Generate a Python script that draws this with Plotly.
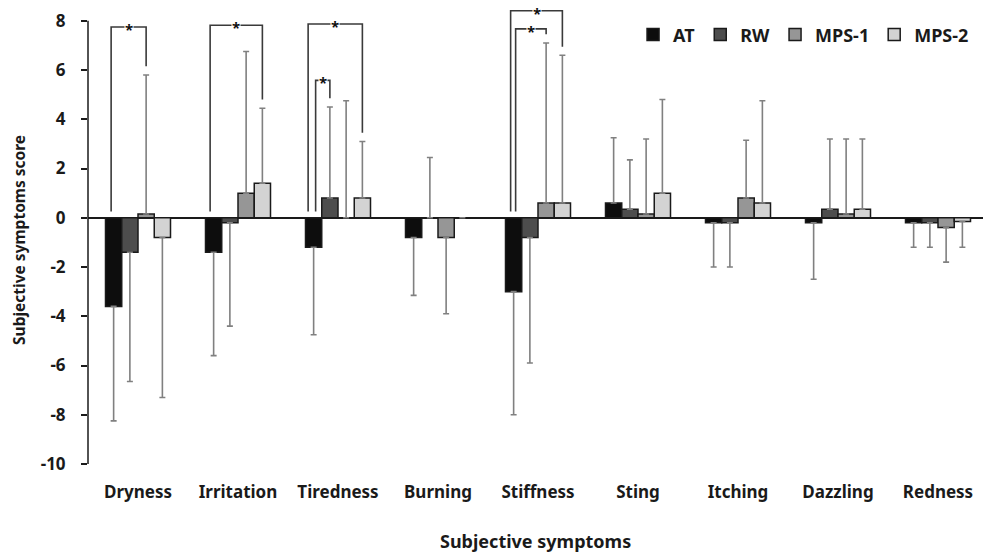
import plotly.graph_objects as go

categories = ["Dryness", "Irritation", "Tiredness", "Burning", "Stiffness",
              "Sting", "Itching", "Dazzling", "Redness"]
series_names = ["AT", "RW", "MPS-1", "MPS-2"]

at_vals = [-3.6, -1.4, -1.2, -0.8, -3.0, 0.6, -0.2, -0.2, -0.2]
rw_vals = [-1.4, -0.2, 0.8, 0.0, -0.8, 0.35, -0.2, 0.35, -0.2]
mps1_vals = [0.15, 1.0, 0.0, -0.8, 0.6, 0.15, 0.8, 0.15, -0.4]
mps2_vals = [-0.8, 1.4, 0.8, 0.0, 0.6, 1.0, 0.6, 0.35, -0.15]

at_sd = [4.65, 4.2, 3.55, 2.35, 5.0, 2.65, 1.8, 2.3, 1.0]
rw_sd = [5.25, 4.2, 3.7, 2.45, 5.1, 2.0, 1.8, 2.85, 1.0]
mps1_sd = [5.65, 5.75, 4.75, 3.1, 6.5, 3.05, 2.35, 3.05, 1.4]
mps2_sd = [6.5, 3.05, 2.3, 0.0, 6.0, 3.8, 4.15, 2.85, 1.05]

y_ticks = [-10, -8, -6, -4, -2, 0, 2, 4, 6, 8]
y_ticktext = ["-10", "-8", "-6", "-4", "-2", "0", "2", "4", "6", "8"]

# significance brackets: (category index, left series, right series, top y, left x nudge)
brackets = [
    (0, 0, 2, 7.75, -0.025),
    (1, 0, 3, 7.82, -0.035),
    (2, 0, 3, 7.87, -0.055),
    (2, 0, 1, 5.58, 0.02),
    (4, 0, 3, 8.41, -0.03),
    (4, 0, 2, 7.67, 0.02),
]

values = [at_vals, rw_vals, mps1_vals, mps2_vals]
sds = [at_sd, rw_sd, mps1_sd, mps2_sd]
colors = ["#0d0d0d", "#4d4d4d", "#969696", "#d3d3d3"]

FONT = "Noto Sans"
BARGAP = 0.35
bw = (1 - BARGAP) / 4

fig = go.Figure()
for name, vals, sd, col in zip(series_names, values, sds, colors):
    plus = [s if v >= 0 else 0 for v, s in zip(vals, sd)]
    minus = [s if v < 0 else 0 for v, s in zip(vals, sd)]
    fig.add_trace(go.Bar(
        name=name, x=categories, y=vals,
        marker=dict(color=col, line=dict(color="#1a1a1a", width=1.5)),
        error_y=dict(type="data", symmetric=False, array=plus, arrayminus=minus,
                     color="#808080", thickness=1.6, width=3),
    ))

shapes = []
annotations = []
# y axis line from -10 to 8
shapes.append(dict(type="line", xref="paper", yref="y", x0=0, x1=0,
                   y0=y_ticks[0], y1=y_ticks[-1], line=dict(color="#1a1a1a", width=1.5)))

for ci, si, sj, top, nudge in brackets:
    xl = ci + (si - 1.5) * bw + nudge
    xr = ci + (sj - 1.5) * bw
    yl = 0.25 if values[si][ci] < 0 else values[si][ci] + 0.3
    vj = values[sj][ci]
    yr = vj + sds[sj][ci] + 0.35 if vj >= 0 else 0.3
    shapes.append(dict(type="path", xref="x", yref="y",
                       path=f"M {xl},{yl} L {xl},{top} L {xr},{top} L {xr},{yr}",
                       line=dict(color="#3a3a3a", width=1.6)))
    annotations.append(dict(x=(xl + xr) / 2, y=top, xref="x", yref="y", text="<b>*</b>",
                            showarrow=False, font=dict(family=FONT, size=15, color="#111"),
                            bgcolor="white", borderpad=0, yshift=-2))

annotations.append(dict(text="<b>Subjective symptoms score</b>", xref="paper", yref="y",
                        x=0, xshift=-69, xanchor="center", y=-0.9, textangle=-90,
                        showarrow=False,
                        font=dict(family=FONT, size=15.5, color="#1a1a1a")))
annotations.append(dict(text="<b>Subjective symptoms</b>", xref="paper", yref="paper",
                        x=0.5, y=0, yshift=-77, yanchor="middle", showarrow=False,
                        font=dict(family=FONT, size=18, color="#1a1a1a")))

fig.update_layout(
    width=983, height=556,
    margin=dict(l=88, r=0, t=6, b=92),
    paper_bgcolor="white", plot_bgcolor="white",
    barmode="group", bargap=BARGAP, bargroupgap=0,
    font=dict(family=FONT, size=15, color="#1a1a1a"),
    showlegend=True,
    legend=dict(orientation="h", x=0.99, xanchor="right", y=0.937, yanchor="middle",
                font=dict(family=FONT, size=18, color="#1a1a1a", weight="bold"),
                bgcolor="rgba(0,0,0,0)", itemwidth=30, traceorder="normal"),
    shapes=shapes, annotations=annotations,
)
fig.update_xaxes(range=[-0.5, 8.45], showline=False, showgrid=False, ticks="",
                 tickfont=dict(family=FONT, size=17, weight="bold"),
                 ticklabelstandoff=16, zeroline=False)
fig.update_yaxes(range=[-10, 8.6], tickvals=y_ticks, ticktext=y_ticktext,
                 showline=False, showgrid=False,
                 ticks="outside", ticklen=6, tickwidth=1.5, tickcolor="#1a1a1a",
                 tickfont=dict(family=FONT, size=17, weight="bold"),
                 ticklabelstandoff=12,
                 zeroline=True, zerolinecolor="#1a1a1a", zerolinewidth=1.5)

fig.write_html("out.html")
